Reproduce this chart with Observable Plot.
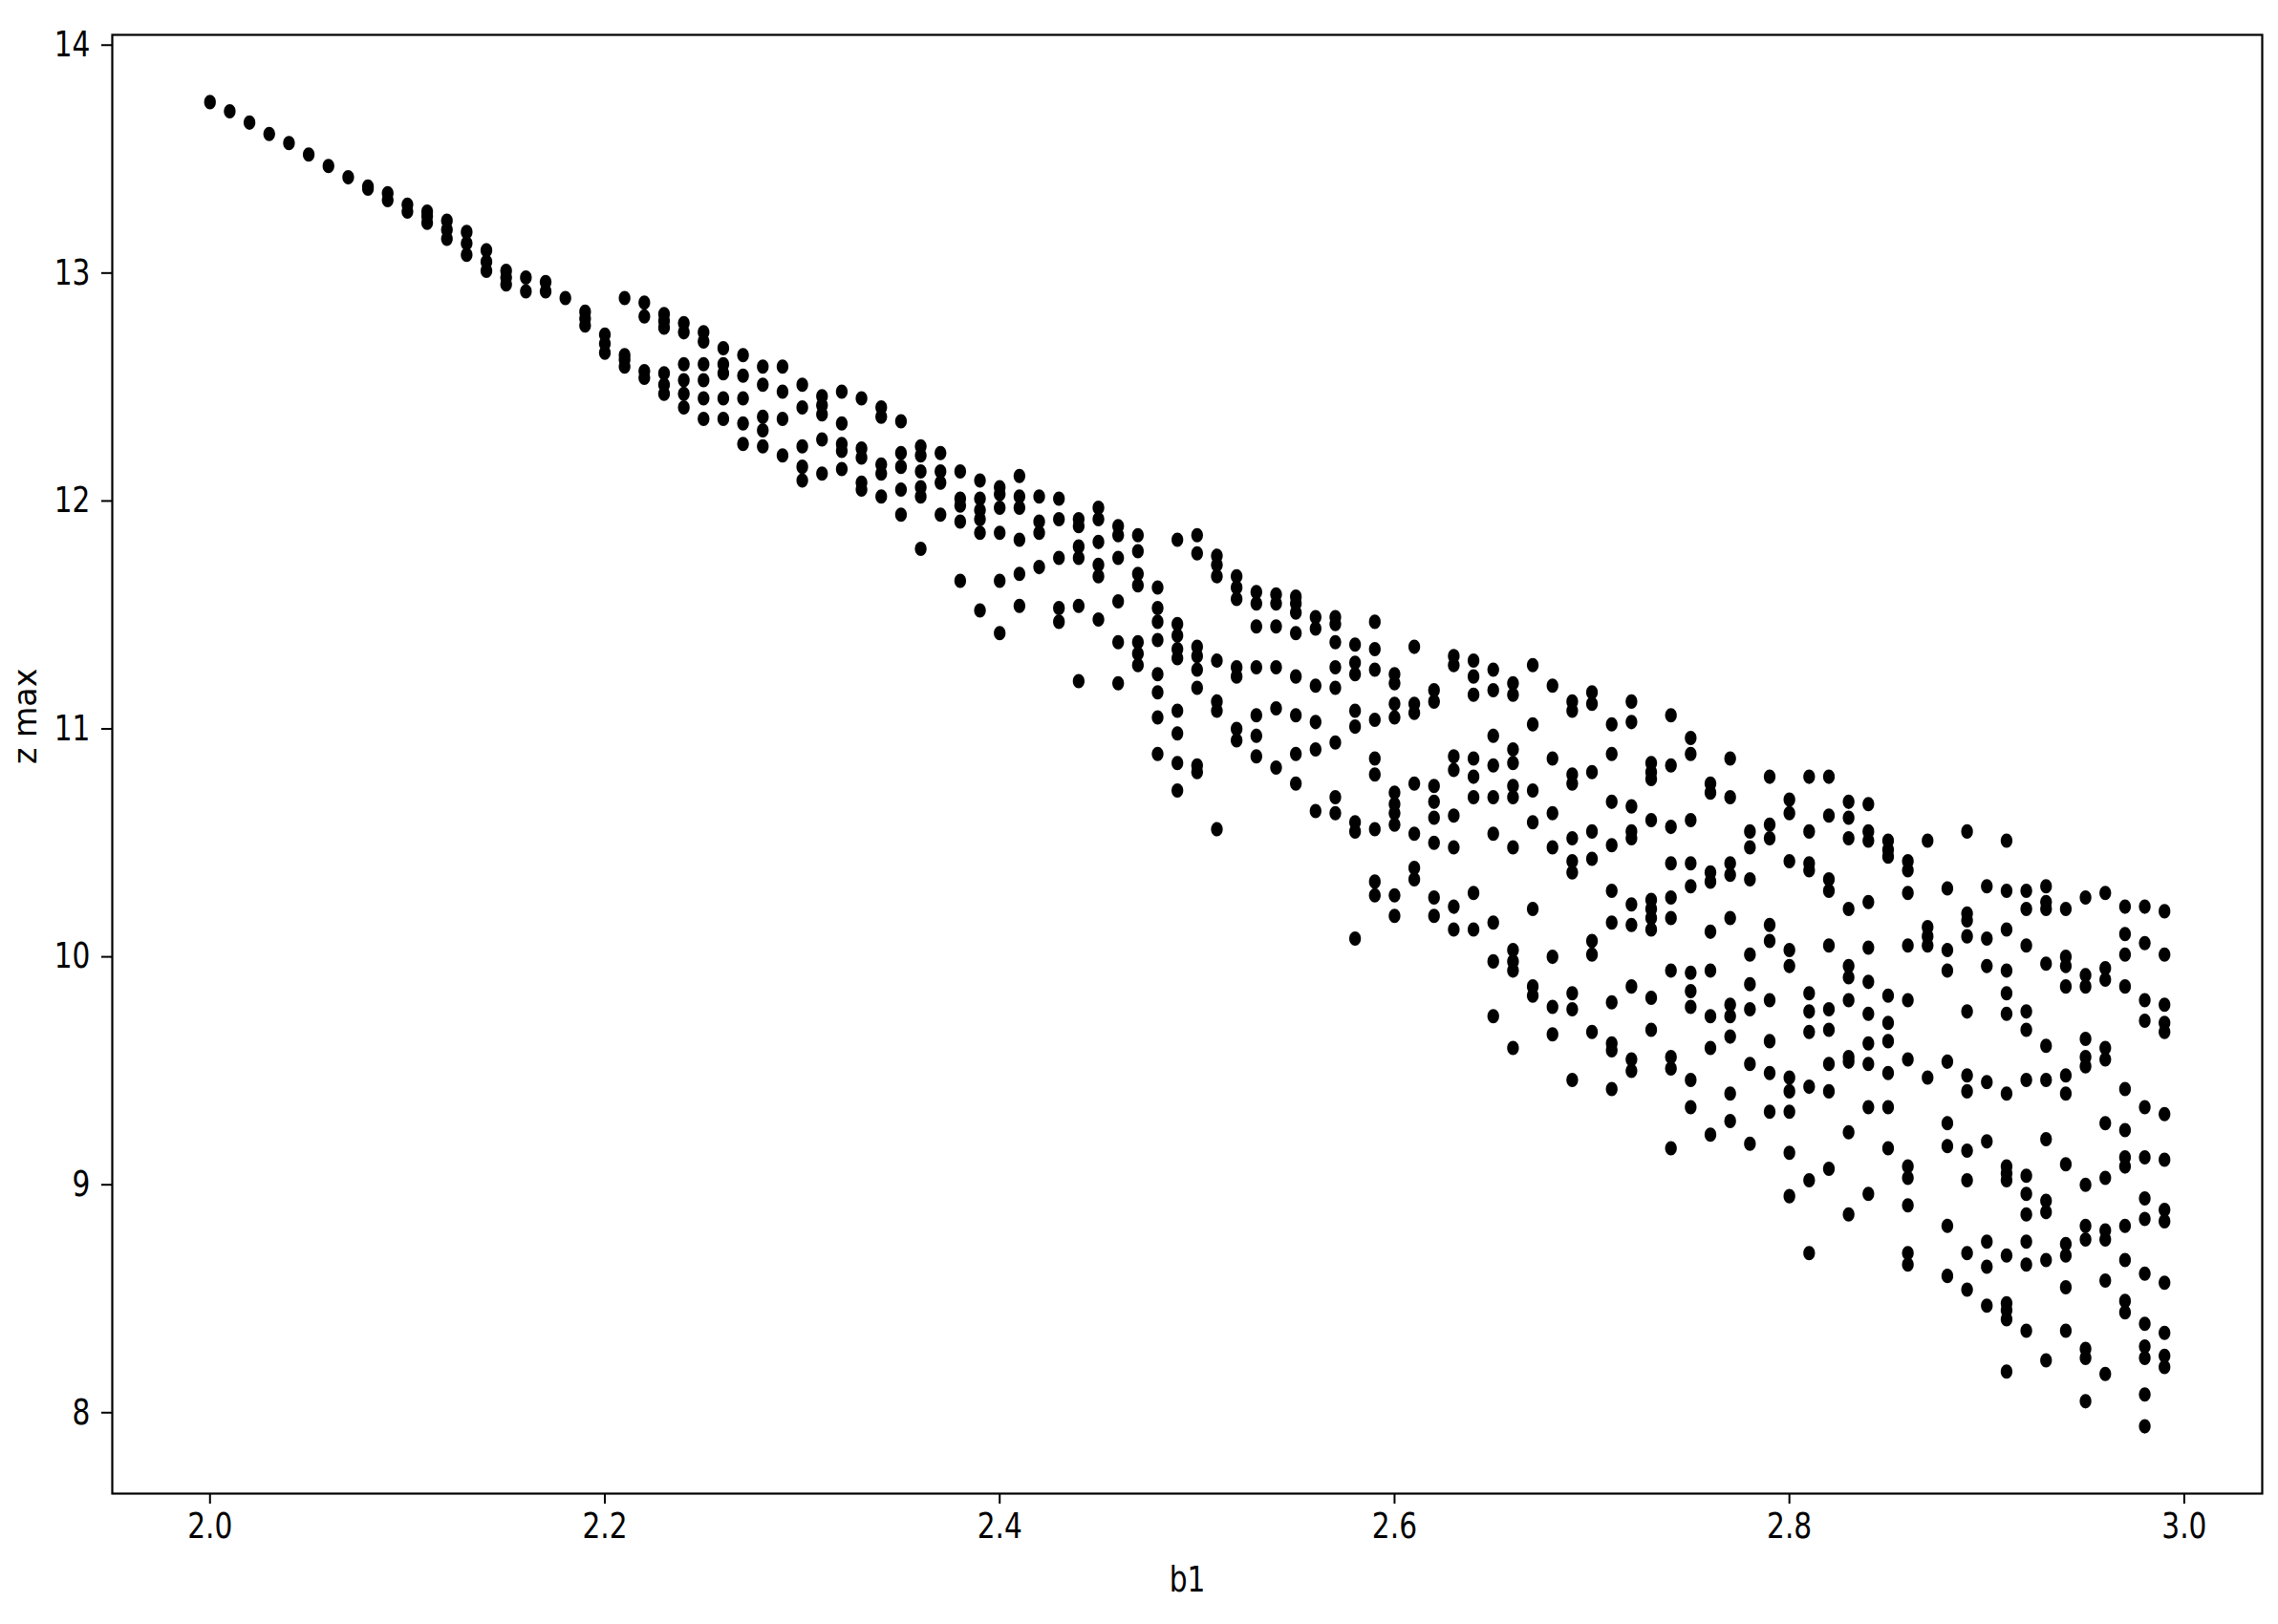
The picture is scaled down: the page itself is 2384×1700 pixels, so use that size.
<!DOCTYPE html>
<html>
<head>
<meta charset="utf-8">
<script src="https://cdn.jsdelivr.net/npm/d3@7"></script>
<script src="https://cdn.jsdelivr.net/npm/@observablehq/plot@0.6"></script>
<style>
  html, body { margin: 0; padding: 0; background: #ffffff; }
  #chart svg { display: block; }
</style>
</head>
<body>
<div id="chart"></div>
<script>
// b1 column positions
const b1Values = [
  2.00, 2.01, 2.02, 2.03, 2.04, 2.05, 2.06, 2.07, 2.08, 2.09,
  2.10, 2.11, 2.12, 2.13, 2.14, 2.15, 2.16, 2.17, 2.18, 2.19,
  2.20, 2.21, 2.22, 2.23, 2.24, 2.25, 2.26, 2.27, 2.28, 2.29,
  2.30, 2.31, 2.32, 2.33, 2.34, 2.35, 2.36, 2.37, 2.38, 2.39,
  2.40, 2.41, 2.42, 2.43, 2.44, 2.45, 2.46, 2.47, 2.48, 2.49,
  2.50, 2.51, 2.52, 2.53, 2.54, 2.55, 2.56, 2.57, 2.58, 2.59,
  2.60, 2.61, 2.62, 2.63, 2.64, 2.65, 2.66, 2.67, 2.68, 2.69,
  2.70, 2.71, 2.72, 2.73, 2.74, 2.75, 2.76, 2.77, 2.78, 2.79,
  2.80, 2.81, 2.82, 2.83, 2.84, 2.85, 2.86, 2.87, 2.88, 2.89,
  2.90, 2.91, 2.92, 2.93, 2.94, 2.95, 2.96, 2.97, 2.98, 2.99
];

// z max values for each b1 column (same order as b1Values)
const zMaxByColumn = [
  [13.75], [13.71], [13.66], [13.61], [13.57], [13.52], [13.47], [13.42],
  [13.38, 13.37], [13.35, 13.32], [13.30, 13.27], [13.27, 13.25, 13.22],
  [13.23, 13.19, 13.15], [13.18, 13.13, 13.08], [13.10, 13.05, 13.01],
  [13.01, 12.98, 12.95], [12.98, 12.92], [12.96, 12.92], [12.89],
  [12.83, 12.80, 12.77],
  [12.73, 12.69, 12.65],
  [12.89, 12.64, 12.62, 12.59],
  [12.87, 12.81, 12.57, 12.54],
  [12.82, 12.79, 12.76, 12.56, 12.51, 12.47],
  [12.78, 12.74, 12.60, 12.53, 12.47, 12.41],
  [12.74, 12.70, 12.60, 12.53, 12.45, 12.36],
  [12.67, 12.60, 12.56, 12.45, 12.36],
  [12.64, 12.55, 12.45, 12.34, 12.25],
  [12.59, 12.51, 12.37, 12.31, 12.24],
  [12.59, 12.48, 12.36, 12.20],
  [12.51, 12.41, 12.24, 12.15, 12.09],
  [12.46, 12.42, 12.38, 12.27, 12.12],
  [12.48, 12.34, 12.25, 12.22, 12.14],
  [12.45, 12.23, 12.19, 12.08, 12.05],
  [12.41, 12.37, 12.16, 12.12, 12.02],
  [12.35, 12.21, 12.15, 12.05, 11.94],
  [12.24, 12.20, 12.13, 12.06, 12.02, 11.79],
  [12.21, 12.13, 12.08, 11.94],
  [12.13, 12.01, 11.98, 11.91, 11.65],
  [12.09, 12.01, 11.96, 11.92, 11.86, 11.52],
  [12.06, 12.03, 11.97, 11.86, 11.65, 11.42],
  [12.11, 12.02, 11.97, 11.83, 11.68, 11.54],
  [12.02, 11.91, 11.86, 11.71],
  [12.01, 11.92, 11.75, 11.53, 11.47],
  [11.92, 11.89, 11.80, 11.75, 11.54, 11.21],
  [11.97, 11.92, 11.82, 11.72, 11.67, 11.48],
  [11.89, 11.85, 11.75, 11.56, 11.38, 11.20],
  [11.85, 11.78, 11.68, 11.63, 11.38, 11.33, 11.28],
  [11.62, 11.53, 11.47, 11.39, 11.24, 11.16, 11.05, 10.89],
  [11.83, 11.46, 11.41, 11.35, 11.31, 11.08, 10.98, 10.85, 10.73],
  [11.85, 11.77, 11.36, 11.32, 11.26, 11.18, 10.84, 10.81],
  [11.76, 11.72, 11.67, 11.30, 11.12, 11.08, 10.56],
  [11.67, 11.62, 11.57, 11.27, 11.23, 11.00, 10.95],
  [11.60, 11.55, 11.45, 11.27, 11.06, 10.97, 10.88],
  [11.59, 11.55, 11.45, 11.27, 11.09, 10.83],
  [11.58, 11.55, 11.51, 11.42, 11.23, 11.06, 10.89, 10.76],
  [11.49, 11.44, 11.19, 11.03, 10.91, 10.64],
  [11.49, 11.46, 11.38, 11.27, 11.18, 10.94, 10.70, 10.63],
  [11.37, 11.29, 11.24, 11.08, 11.01, 10.59, 10.55, 10.08],
  [11.47, 11.35, 11.26, 11.04, 10.87, 10.80, 10.56, 10.33, 10.27],
  [11.24, 11.20, 11.11, 11.05, 10.72, 10.67, 10.63, 10.58, 10.27, 10.18],
  [11.36, 11.11, 11.07, 10.76, 10.54, 10.39, 10.34],
  [11.17, 11.12, 10.75, 10.68, 10.61, 10.50, 10.26, 10.18],
  [11.32, 11.28, 10.88, 10.82, 10.62, 10.48, 10.22, 10.12],
  [11.30, 11.23, 11.15, 10.87, 10.79, 10.70, 10.28, 10.12],
  [11.26, 11.17, 10.97, 10.84, 10.70, 10.54, 10.15, 9.98, 9.74],
  [11.20, 11.15, 10.91, 10.85, 10.75, 10.70, 10.48, 10.03, 9.98, 9.94, 9.60],
  [11.28, 11.02, 10.73, 10.59, 10.21, 9.87, 9.83],
  [11.19, 10.87, 10.63, 10.48, 10.00, 9.78, 9.66],
  [11.12, 11.08, 10.80, 10.76, 10.52, 10.42, 10.37, 9.84, 9.77, 9.46],
  [11.16, 11.11, 10.81, 10.55, 10.43, 10.07, 10.01, 9.67],
  [11.02, 10.89, 10.68, 10.49, 10.29, 10.15, 9.80, 9.62, 9.59, 9.42],
  [11.12, 11.03, 10.66, 10.55, 10.52, 10.23, 10.14, 9.87, 9.55, 9.50],
  [10.85, 10.81, 10.78, 10.60, 10.25, 10.21, 10.17, 10.12, 9.82, 9.68],
  [11.06, 10.84, 10.57, 10.41, 10.26, 10.17, 9.94, 9.56, 9.51, 9.16],
  [10.96, 10.89, 10.60, 10.41, 10.31, 9.93, 9.85, 9.78, 9.46, 9.34],
  [10.76, 10.72, 10.37, 10.33, 10.11, 9.94, 9.74, 9.60, 9.22],
  [10.87, 10.70, 10.41, 10.36, 10.17, 9.79, 9.74, 9.65, 9.40, 9.28],
  [10.55, 10.48, 10.34, 10.01, 9.88, 9.77, 9.53, 9.18],
  [10.79, 10.58, 10.52, 10.14, 10.07, 9.81, 9.63, 9.49, 9.32],
  [10.69, 10.63, 10.42, 10.03, 9.96, 9.47, 9.41, 9.32, 9.14, 8.95],
  [10.79, 10.55, 10.41, 10.38, 9.84, 9.76, 9.67, 9.43, 9.02, 8.70],
  [10.79, 10.62, 10.34, 10.29, 10.05, 9.77, 9.68, 9.53, 9.41, 9.07],
  [10.68, 10.61, 10.52, 10.21, 9.96, 9.91, 9.81, 9.56, 9.54, 9.23, 8.87],
  [10.67, 10.55, 10.51, 10.24, 10.04, 9.89, 9.75, 9.62, 9.53, 9.34, 8.96],
  [10.51, 10.47, 10.44, 9.83, 9.71, 9.63, 9.49, 9.34, 9.16],
  [10.42, 10.38, 10.28, 10.05, 9.81, 9.55, 9.08, 9.03, 8.91, 8.70, 8.65],
  [10.51, 10.13, 10.09, 10.05, 9.47],
  [10.30, 10.03, 9.94, 9.54, 9.27, 9.17, 8.82, 8.60],
  [10.55, 10.19, 10.16, 10.09, 9.76, 9.48, 9.41, 9.15, 9.02, 8.70, 8.54],
  [10.31, 10.08, 9.96, 9.45, 9.19, 8.75, 8.64, 8.47],
  [10.51, 10.29, 10.12, 9.94, 9.84, 9.75, 9.40, 9.08, 9.05, 9.02, 8.69, 8.48, 8.45, 8.41, 8.18],
  [10.29, 10.21, 10.05, 9.76, 9.68, 9.46, 9.04, 8.96, 8.87, 8.75, 8.65, 8.36],
  [10.31, 10.24, 10.21, 9.97, 9.61, 9.46, 9.20, 8.93, 8.88, 8.67, 8.23],
  [10.21, 10.00, 9.96, 9.87, 9.48, 9.40, 9.09, 8.74, 8.69, 8.55, 8.36],
  [10.26, 9.92, 9.87, 9.64, 9.56, 9.52, 9.00, 8.82, 8.76, 8.28, 8.24, 8.05],
  [10.28, 9.95, 9.90, 9.60, 9.55, 9.27, 9.03, 8.80, 8.76, 8.58, 8.17],
  [10.22, 10.10, 10.01, 9.87, 9.42, 9.24, 9.12, 9.08, 8.82, 8.67, 8.49, 8.44],
  [10.22, 10.06, 9.81, 9.72, 9.34, 9.12, 8.94, 8.85, 8.61, 8.39, 8.29, 8.24, 8.08, 7.94],
  [10.20, 10.01, 9.79, 9.71, 9.67, 9.31, 9.11, 8.89, 8.84, 8.57, 8.35, 8.25, 8.20]
];

const xTicks = [2.0, 2.2, 2.4, 2.6, 2.8, 3.0];
const yTicks = [8, 9, 10, 11, 12, 13, 14];
const xLabel = "b1";
const yLabel = "z max";

// long table built from the arrays above
const points = b1Values.flatMap((b, i) => zMaxByColumn[i].map(z => ({b1: b, z})));

// slightly tall elliptical marker, as in the picture
const ellipse = {
  draw(context, size) {
    const r = Math.sqrt(size / Math.PI);
    const rx = r * 0.84, ry = r * 1.03, k = 0.5523;
    context.moveTo(rx, 0);
    context.bezierCurveTo(rx, k * ry, k * rx, ry, 0, ry);
    context.bezierCurveTo(-k * rx, ry, -rx, k * ry, -rx, 0);
    context.bezierCurveTo(-rx, -k * ry, -k * rx, -ry, 0, -ry);
    context.bezierCurveTo(k * rx, -ry, rx, -k * ry, rx, 0);
    context.closePath();
  }
};

const font = "'DejaVu Sans Condensed', 'DejaVu Sans', sans-serif";

const chart = Plot.plot({
  width: 2384,
  height: 1700,
  marginLeft: 117,
  marginRight: 17,
  marginTop: 36,
  marginBottom: 137,
  style: {fontFamily: font, fontSize: "33px", background: "#ffffff", color: "#000000"},
  x: {domain: [1.9505, 3.0395], ticks: xTicks, tickFormat: d3.format(".1f"), label: null, tickSize: 11, tickPadding: 9},
  y: {domain: [7.645, 14.045], ticks: yTicks, tickFormat: d => String(d), label: null, tickSize: 11, tickPadding: 12},
  marks: [
    Plot.dot(points, {x: "b1", y: "z", r: 7.3, fill: "#000000", stroke: "none", symbol: ellipse}),
    Plot.frame({stroke: "#000000", strokeWidth: 2.2}),
    Plot.text([xLabel], {frameAnchor: "bottom", dy: 102, text: d => d, fontSize: 33, fill: "#000000"}),
    Plot.text([yLabel], {frameAnchor: "left", dx: -90, rotate: -90, text: d => d, fontSize: 33, fill: "#000000"})
  ]
});

const svg = d3.select(chart);
svg.selectAll('g[aria-label$="tick"]').attr("stroke-width", 2);
// the reference's lettering is slightly tall; stretch text vertically on screen
svg.selectAll("text").each(function () {
  const t = this.getAttribute("transform");
  if (t && /translate\([^)]*\)/.test(t)) {
    this.setAttribute("transform", t.replace(/(translate\([^)]*\))/, "$1 scale(1,1.12)"));
  }
});
document.getElementById("chart").appendChild(chart);
</script>
</body>
</html>
